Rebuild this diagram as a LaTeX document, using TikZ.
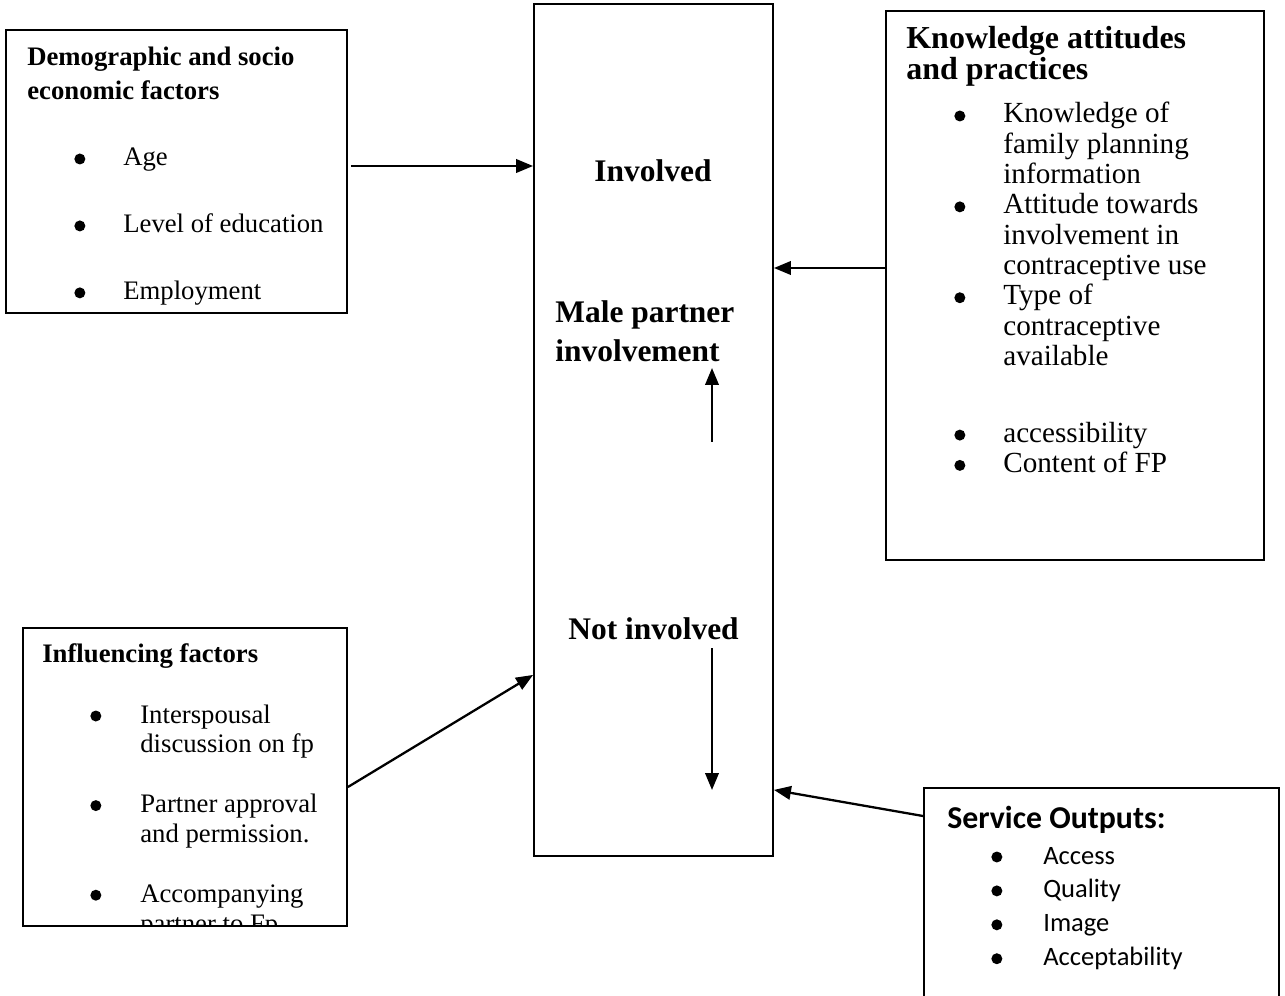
\documentclass[tikz,border=0pt]{standalone}
\usepackage{fontspec}
\setmainfont{Liberation Serif}
\newfontfamily\calibri{Carlito}
\usetikzlibrary{arrows.meta}
\newcommand{\puce}{\tikz[baseline=-0.14cm]\fill (0,0) circle (0.11cm);}

\begin{document}
\begin{tikzpicture}[x=0.02cm, y=-0.02cm]
\tikzset{cadre/.style={draw, line width=1.1pt, minimum width=#1},
  fleche/.style={line width=1.3pt, -{Triangle[length=0.34cm, width=0.27cm]}},
  texte/.style={inner sep=0pt, anchor=base west, align=left}}
\useasboundingbox (0,0) rectangle (1285,996);
\clip (0,0) rectangle (1285,996);
\node[cadre=6.82cm, minimum height=5.66cm] (demo) at (176.5,171.5) {};
\node[cadre=4.78cm, minimum height=17.04cm] (centre) at (653.5,430) {};
\node[cadre=7.56cm, minimum height=10.98cm] (kap) at (1075,285.5) {};
\node[cadre=6.48cm, minimum height=5.96cm] (infl) at (185,777) {};
\node[cadre=7.1cm, minimum height=4.84cm] (serv) at (1101.5,909) {};
\node[texte, font=\fontsize{15.2}{19.9}\selectfont\bfseries] (demoT) at (27,100) {Demographic and socio\\economic factors};
\node[texte, font=\fontsize{15.2}{38.1}\selectfont] (demoL) at (74,166) {\begin{tabular}[t]{@{}p{0.98cm}@{}l@{}}
\puce & Age\\
\puce & Level of education\\
\puce & Employment
\end{tabular}};
\node[texte, font=\fontsize{18.2}{18.2}\selectfont\bfseries] (kapT) at (906,80) {Knowledge attitudes\\and practices};
\node[texte, font=\fontsize{16.6}{17.24}\selectfont] (kapL) at (954,123) {\begin{tabular}[t]{@{}p{0.98cm}@{}l@{}}
\puce & Knowledge of\\
 & family planning\\
 & information\\
\puce & Attitude towards\\
 & involvement in\\
 & contraceptive use\\
\puce & Type of\\
 & contraceptive\\
 & available\\[0.93cm]
\puce & accessibility\\
\puce & Content of FP
\end{tabular}};
\node[texte, font=\fontsize{15.2}{19.9}\selectfont\bfseries] (inflT) at (42,663) {Influencing factors};
\begin{scope}
\clip (infl.south west) rectangle (infl.north east);
\node[texte, font=\fontsize{15.2}{17}\selectfont] (inflL) at (90,723) {\begin{tabular}[t]{@{}p{1cm}@{}l@{}}
\puce & Interspousal\\
 & discussion on fp\\
 & \\
\puce & Partner approval\\
 & and permission.\\
 & \\
\puce & Accompanying\\
 & partner to Fp
\end{tabular}};
\end{scope}
\node[texte, font=\calibri\fontsize{18.1}{18.1}\selectfont\bfseries] (servT) at (947,828) {Service Outputs:};
\node[texte, font=\calibri\fontsize{15.1}{19.3}\selectfont] (servL) at (991,864) {\begin{tabular}[t]{@{}p{1.04cm}@{}l@{}}
\puce & Access\\
\puce & Quality\\
\puce & Image\\
\puce & Acceptability
\end{tabular}};
\node[inner sep=0pt, anchor=base, font=\fontsize{17.9}{22}\selectfont\bfseries] (inv) at (653,182) {Involved};
\node[texte, font=\fontsize{17.9}{22.2}\selectfont\bfseries] (male) at (555,362) {Male partner\\involvement};
\node[texte, font=\fontsize{17.9}{22}\selectfont\bfseries] (notinv) at (568,640) {Not involved};
\coordinate (u1) at (712,442);
\coordinate (u2) at (712,368);
\coordinate (d1) at (712,648);
\coordinate (d2) at (712,790);
\draw[fleche] ([xshift=0.06cm, yshift=0.11cm]demo.east) -- ([yshift=0.11cm]demo.east -| centre.west);
\draw[fleche] ([yshift=0.35cm]kap.west) -- ([yshift=0.35cm]kap.west -| centre.east);
\draw[fleche] ([yshift=-0.2cm]infl.east) -- ([yshift=-4.9cm]centre.west);
\draw[fleche] ([yshift=1.86cm]serv.west) -- ([yshift=-7.2cm]centre.east);
\draw[fleche] (u1) -- (u2);
\draw[fleche] (d1) -- (d2);
\end{tikzpicture}
\end{document}
